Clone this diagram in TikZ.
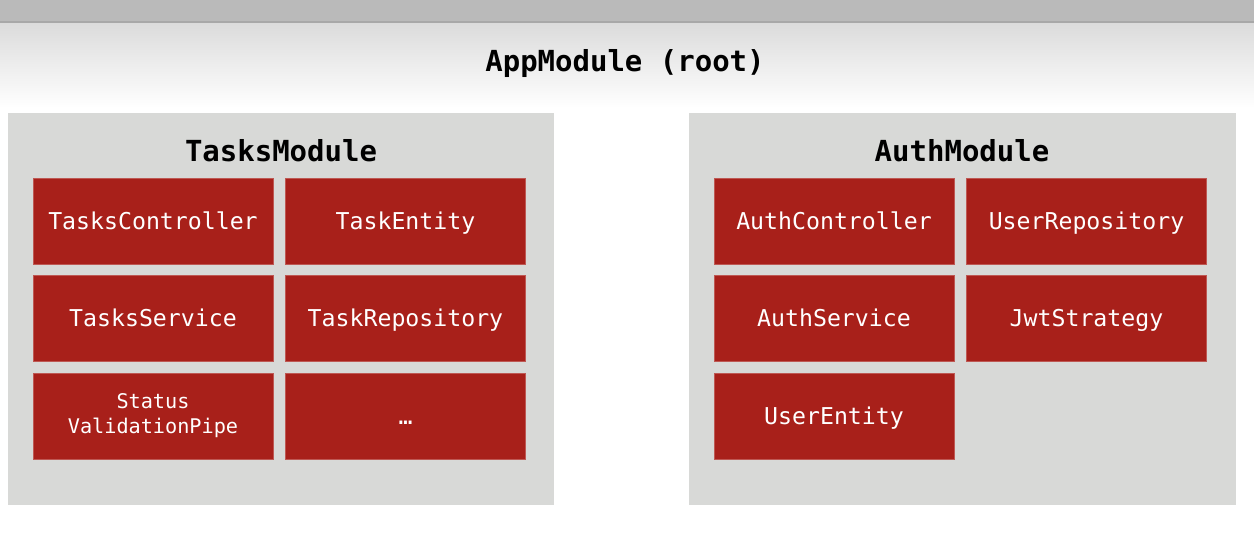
\documentclass[tikz,border=0pt]{standalone}
\usepackage{fontspec}
\setmonofont{DejaVu Sans Mono}
\usetikzlibrary{positioning}
\definecolor{nestred}{HTML}{A8201A}
\definecolor{modgray}{HTML}{D8D9D7}
\tikzstyle{module} = [rectangle, fill=modgray, minimum width=10.93cm, minimum height=7.84cm, inner sep=0pt]
\tikzstyle{modtitle} = [font=\fontsize{16.5}{20}\selectfont\ttfamily\bfseries]
\tikzstyle{item} = [rectangle, fill=nestred, draw=nestred!75!white, line width=0.3pt, text=white, minimum width=4.8cm, minimum height=1.72cm, inner sep=0pt, text height=1.15em, text depth=0.22em, font=\fontsize{13.2}{16}\selectfont\ttfamily]
\tikzstyle{smallitem} = [rectangle, fill=nestred, draw=nestred!75!white, line width=0.3pt, text=white, minimum width=4.8cm, minimum height=1.72cm, inner sep=0pt, align=center, font=\fontsize{11.5}{14.2}\selectfont\ttfamily]

\begin{document}
\begin{tikzpicture}[x=0.02cm, y=-0.02cm, node distance=0.22cm and 0.24cm]
    \useasboundingbox (0,0) rectangle (1254,538);
    % header band and fade
    \fill[black!27] (0,0) rectangle (1254,22);
    \draw[black!34, line width=1pt] (0,22) -- (1254,22);
    \shade[top color=black!14, bottom color=white] (0,23) rectangle (1254,108);
    \node[modtitle] (app) at (625,63) {AppModule (root)};

    % tasks module
    \node[module] (tasks) at (281,309) {};
    \node[modtitle] (tasksT) at (281,151) {TasksModule};
    \node[item] (tctrl) at (153,221) {TasksController};
    \node[item, right=of tctrl] (tent) {TaskEntity};
    \node[item, below=of tctrl] (tsvc) {TasksService};
    \node[item, below=of tent] (trepo) {TaskRepository};
    \node[smallitem, below=of tsvc] (tpipe) {Status\\ValidationPipe};
    \node[item, below=of trepo] (tmore) {…};

    % auth module
    \node[module] (auth) at (962.5,309) {};
    \node[modtitle] (authT) at (962,151) {AuthModule};
    \node[item] (actrl) at (834,221) {AuthController};
    \node[item, right=of actrl] (urepo) {UserRepository};
    \node[item, below=of actrl] (asvc) {AuthService};
    \node[item, below=of urepo] (jwt) {JwtStrategy};
    \node[item, below=of asvc] (uent) {UserEntity};
\end{tikzpicture}
\end{document}
